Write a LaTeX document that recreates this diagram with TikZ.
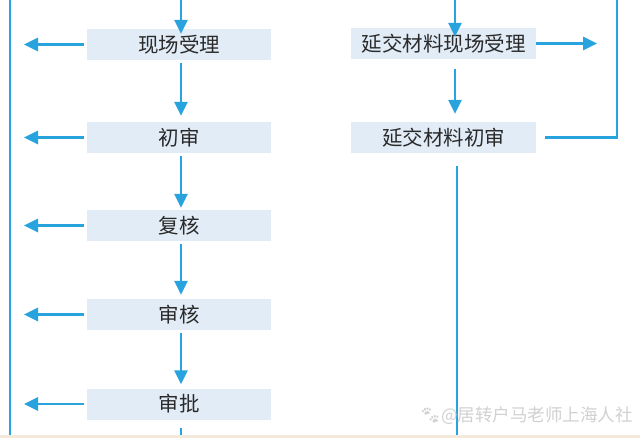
\documentclass[tikz,border=0pt]{standalone}
\usepackage{fontspec}
\setmainfont{Noto Sans CJK SC}
\newfontfamily\emojifont{Noto Emoji}
\usetikzlibrary{arrows.meta}
\definecolor{flowblue}{HTML}{29A3DD}
\definecolor{boxfill}{HTML}{E1ECF7}
\definecolor{txtgray}{HTML}{2A2A2A}
\definecolor{band}{HTML}{F5E9DC}
\tikzset{
  x=1pt, y=-1pt,
  flow/.style={draw=flowblue, line width=2.6pt},
  arr/.style={flow, -{Triangle[length=14pt,width=13pt]}},
  lbox/.style={fill=boxfill, minimum width=184pt, minimum height=31pt, inner sep=0pt,
    text=txtgray, font=\fontsize{20.5}{21}\selectfont},
  rbox/.style={lbox, minimum width=185pt},
  wm/.style={text=black!18, font=\fontsize{17.5}{18}\selectfont, inner sep=0pt, anchor=west}
}
\begin{document}
\begin{tikzpicture}
\useasboundingbox (0,0) rectangle (640,438);
\fill[white] (0,0) rectangle (640,438);
\fill[band] (0,434.5) rectangle (640,438);

% left column boxes
\node[lbox] (a1) at (179,44.5) {现场受理};
\node[lbox] (a2) at (179,137.5) {初审};
\node[lbox] (a3) at (179,225.5) {复核};
\node[lbox] (a4) at (179,314.5) {审核};
\node[lbox] (a5) at (179,404) {审批};

% right column boxes
\node[rbox] (b1) at (443.5,43.5) {延交材料现场受理};
\node[rbox] (b2) at (443.5,137.5) {延交材料初审};

% coordinates
\coordinate (ltop) at (10,0);
\coordinate (lbot) at (10,434.5);
\coordinate (atop) at (181,0);
\coordinate (astub1) at (181,428);
\coordinate (astub2) at (181,434.5);
\coordinate (btop) at (455,0);
\coordinate (rtop) at (617,0);
\coordinate (rtip) at (597,43.5);
\coordinate (vtop) at (457,166);
\coordinate (vbot) at (457,434.5);
\foreach \i in {1,...,5}{
  \coordinate (lt\i) at (24,0 |- a\i.center);
}

% left vertical line
\draw[flow] (ltop) -- (lbot);

% top arrows
\draw[arr] (atop) -- ([xshift=2pt,yshift=-5pt]a1.north);
\draw[arr] (btop) -- ([xshift=11.5pt,yshift=-9pt]b1.north);

% left downward arrows
\draw[arr] ([xshift=2pt,yshift=-3pt]a1.south) -- ([xshift=2pt,yshift=6pt]a2.north);
\draw[arr] ([xshift=2pt,yshift=-3pt]a2.south) -- ([xshift=2pt,yshift=2pt]a3.north);
\draw[arr] ([xshift=2pt,yshift=-3pt]a3.south) -- ([xshift=2pt,yshift=4pt]a4.north);
\draw[arr] ([xshift=2pt,yshift=-3pt]a4.south) -- ([xshift=2pt,yshift=4pt]a5.north);
\draw[flow] (astub1) -- (astub2);

% left side arrows
\foreach \i in {1,...,5}{
  \draw[arr] ([xshift=-3pt]a\i.west) -- (lt\i);
}

% right column arrows
\draw[arr] ([xshift=11.5pt,yshift=-10pt]b1.south) -- ([xshift=11.5pt,yshift=8pt]b2.north);
\draw[arr] (b1.east) -- (rtip);
\draw[flow] ([xshift=9pt]b2.east) -| (rtop);
\draw[flow] (vtop) -- (vbot);

% watermark
\node[wm] (wm) at (419,416) {{\emojifont 🐾}@居转户马老师上海人社};
\end{tikzpicture}
\end{document}
